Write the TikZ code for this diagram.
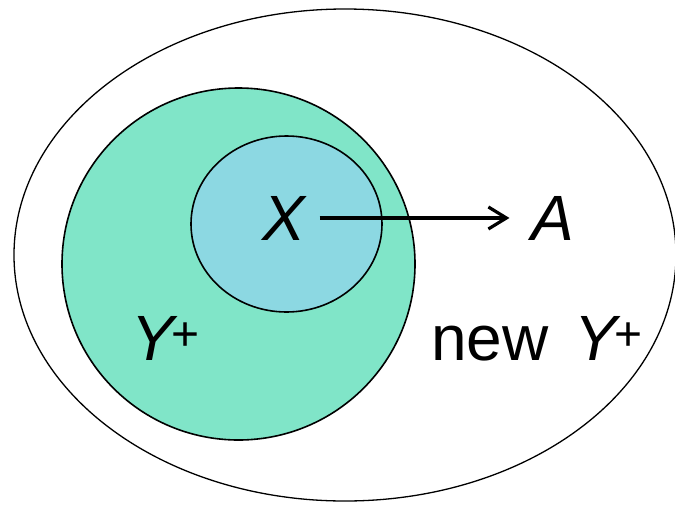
\documentclass[tikz,border=0pt]{standalone}
\usepackage{fontspec}
\setmainfont{Liberation Sans}
\usetikzlibrary{arrows.meta,positioning}

\definecolor{setgreen}{RGB}{128,229,200}
\definecolor{setblue}{RGB}{140,216,226}

% Y with a small upright plus
\newcommand{\Yplus}{\textit{Y}\kern-6pt\raisebox{10pt}{\fontsize{48}{50}\selectfont +}}

\begin{document}
\begin{tikzpicture}[
    x=1pt, y=-1pt,
    every node/.style={font=\fontsize{64}{68}\selectfont, inner sep=0pt},
    setline/.style={draw=black, line width=1.6pt},
    maparrow/.style={-{Straight Barb[length=18pt,width=22pt]}, line width=3.2pt, shorten <=12pt, shorten >=22pt}
]

% Frame
\useasboundingbox (0,0) rectangle (675,504);

% Outer set
\draw[setline, line width=1.3pt] (345,255) ellipse [x radius=331, y radius=246];

% Y+ set
\filldraw[setline, fill=setgreen] (238.5,264) ellipse [x radius=176.5, y radius=176];

% X set
\filldraw[setline, fill=setblue] (286.5,224) ellipse [x radius=95.5, y radius=88];

% Labels
\node[anchor=base] (X) at (285,240) {\textit{X}};
\node[anchor=base] (A) at (553,240) {\textit{A}};
\node[anchor=base west] (yp) at (131,360) {\Yplus};
\node[anchor=base west] (newyp) at (431,360) {new\hspace{0.4em}\Yplus};

% Map
\draw[maparrow] (X) -- (A);

\end{tikzpicture}
\end{document}
